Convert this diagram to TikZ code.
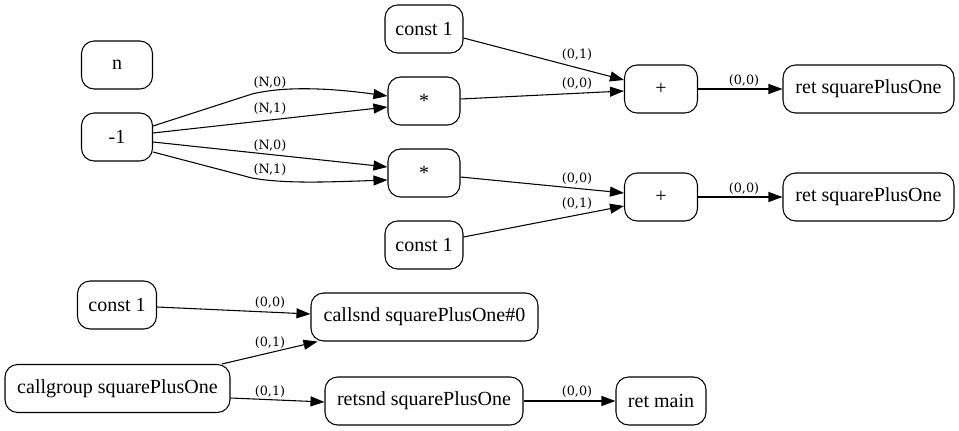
\documentclass[tikz,border=0pt]{standalone}
\usepackage{fontspec}
\setmainfont{Liberation Serif}
\newfontfamily\lblfont{DejaVu Serif}
\usetikzlibrary{arrows.meta,calc}
\tikzset{
  box/.style={draw, line width=0.8pt, rounded corners=9.5pt, minimum height=36pt, inner sep=0pt,
    minimum width={#1*0.75pt}, font=\fontsize{15}{17}\selectfont},
  lbl/.style={inner sep=0pt, font=\lblfont\fontsize{9.6}{10}\selectfont},
  edge/.style={line width=0.8pt, -{Triangle[length=10.5pt,width=7.5pt]}}
}
\begin{document}
\begin{tikzpicture}[x=0.75pt,y=-0.75pt]
\useasboundingbox[fill=white] (0,0) rectangle (959,431);
% nodes
\node[box=71] (nN) at (117,65) {n};
\node[box=71] (neg) at (117,137) {-1};
\node[box=78] (c1) at (424,29) {const 1};
\node[box=72] (m1) at (424,101) {*};
\node[box=72] (m2) at (424,173) {*};
\node[box=78] (c2) at (424,245) {const 1};
\node[box=73] (p1) at (661,89) {+};
\node[box=73] (p2) at (661,197) {+};
\node[box=171] (r1) at (868.5,89) {ret squarePlusOne};
\node[box=171] (r2) at (868.5,197) {ret squarePlusOne};
\node[box=79] (c3) at (117,305) {const 1};
\node[box=227] (cs) at (424.5,317) {callsnd squarePlusOne\#0};
\node[box=225] (cg) at (117.5,388.5) {callgroup squarePlusOne};
\node[box=198] (rs) at (424,401) {retsnd squarePlusOne};
\node[box=90] (rm) at (661,401) {ret main};
% connector end points
\coordinate (a1) at ($(neg.east)+(0,-11)$);
\coordinate (b1) at ($(m1.west)+(0,-5)$);
\coordinate (a2) at ($(neg.east)+(0,-4)$);
\coordinate (b2) at ($(m1.west)+(0,6)$);
\coordinate (a3) at ($(neg.east)+(0,5)$);
\coordinate (b3) at ($(m2.west)+(0,-6)$);
\coordinate (a4) at ($(neg.east)+(0,15)$);
\coordinate (b4) at ($(m2.west)+(0,7)$);
% edges
\draw[edge] (a1) -- ++(99,-32) .. controls +(33,-8) and +(-58,-8) .. (b1);
\draw[edge] (a2) -- (b2);
\draw[edge] (a3) -- (b3);
\draw[edge] (a4) -- ++(99,26) .. controls +(33,6) and +(-58,2) .. (b4);
\draw[edge] ($(c1.east)+(0,9)$) -- ($(p1.west)+(0,-9)$);
\draw[edge] ($(m1.east)+(0,-2)$) -- ($(p1.west)+(0,2)$);
\draw[edge] (p1) -- (r1);
\draw[edge] ($(m2.east)+(0,4)$) -- ($(p2.west)+(0,-4)$);
\draw[edge] ($(c2.east)+(0,-8)$) -- ($(p2.west)+(0,9)$);
\draw[edge] (p2) -- (r2);
\draw[edge] ($(c3.east)+(0,2)$) -- ($(cs.west)+(0,-3)$);
\draw[edge] ($(cg.north)+(104.5,0)$) -- ($(cs.south)+(-107,0)$);
\draw[edge] ($(cg.east)+(0,9.5)$) -- ($(rs.west)+(0,1)$);
\draw[edge] (rs) -- (rm);
% labels
\node[lbl] (l1) at (270,83) {(N,0)};
\node[lbl] (l2) at (270,109) {(N,1)};
\node[lbl] (l3) at (270,146) {(N,0)};
\node[lbl] (l4) at (270,170) {(N,1)};
\node[lbl] (l5) at (577,55) {(0,1)};
\node[lbl] (l6) at (577,84) {(0,0)};
\node[lbl] (l7) at (744,81) {(0,0)};
\node[lbl] (l8) at (577,179) {(0,0)};
\node[lbl] (l9) at (577,204) {(0,1)};
\node[lbl] (l10) at (744,189) {(0,0)};
\node[lbl] (l11) at (270,303) {(0,0)};
\node[lbl] (l12) at (270,343) {(0,1)};
\node[lbl] (l13) at (270,392) {(0,1)};
\node[lbl] (l14) at (577,392) {(0,0)};
\end{tikzpicture}
\end{document}
